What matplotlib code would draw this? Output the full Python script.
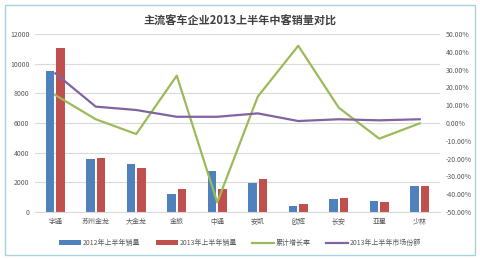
import numpy as np
import matplotlib.pyplot as plt
from matplotlib.ticker import FuncFormatter

plt.rcParams['font.family'] = ['Noto Sans CJK SC', 'DejaVu Sans']

companies = ['宇通', '苏州金龙', '大金龙', '金旅', '中通', '安凯', '欧辉', '长安', '亚星', '少林']
sales_2012 = [9500, 3550, 3220, 1190, 2770, 1950, 380, 860, 760, 1730]
sales_2013 = [11050, 3660, 2990, 1530, 1530, 2250, 560, 920, 680, 1730]
growth = [15.7, 2.1, -6.2, 26.6, -44.6, 14.8, 43.4, 8.6, -8.8, -0.2]
share_2013 = [27.9, 9.2, 7.3, 3.5, 3.5, 5.4, 1.1, 2.1, 1.5, 2.1]

fig = plt.figure(figsize=(4.8, 2.59), dpi=100)
ax = fig.add_axes([35/480, 1-212/259, 405/480, 178/259])
ax2 = ax.twinx()

x = np.arange(len(companies))
w = 0.22
ax.bar(x - w/2 - 0.02, sales_2012, w, color='#4F81BD', label='2012年上半年销量', zorder=2)
ax.bar(x + w/2 + 0.02, sales_2013, w, color='#C0504D', label='2013年上半年销量', zorder=2)
ax2.plot(x, growth, color='#9BBB59', lw=1.6, label='累计增长率')
ax2.plot(x, share_2013, color='#8064A2', lw=1.6, label='2013年上半年市场份额')

ax.set_xlim(-0.5, len(companies) - 0.5)
ax.set_ylim(0, 12000)
ax.set_yticks(np.arange(0, 12001, 2000))
ax2.set_ylim(-50, 50)
ax2.set_yticks(np.arange(-50, 51, 10))
ax2.yaxis.set_major_formatter(FuncFormatter(lambda v, p: f'{v:.2f}%'))
ax.set_xticks(x)
ax.set_xticklabels(companies)
ax.grid(axis='y', color='#D9D9D9', lw=0.8, zorder=0)

for a in (ax, ax2):
    for s in a.spines.values():
        s.set_visible(False)
    a.tick_params(length=0, labelsize=5, colors='#595959', pad=4)
ax.spines['bottom'].set_visible(True)
ax.spines['bottom'].set_color('#D9D9D9')

fig.suptitle('主流客车企业2013上半年中客销量对比', y=0.945, fontsize=8,
             fontweight='bold', color='#404040')

h1, l1 = ax.get_legend_handles_labels()
h2, l2 = ax2.get_legend_handles_labels()
fig.legend(h1 + h2, l1 + l2, loc='center', bbox_to_anchor=(0.5, 1-243/259), ncol=4,
           frameon=False, fontsize=5, handlelength=3.2, handleheight=0.6,
           columnspacing=2.2, handletextpad=0.2, labelcolor='#595959')

fig.patches.append(plt.Rectangle((0.01, 0.015), 0.98, 0.965, transform=fig.transFigure,
                                 fill=False, edgecolor='#A9D1DE', lw=1))
fig.savefig('out.png', dpi=100)
